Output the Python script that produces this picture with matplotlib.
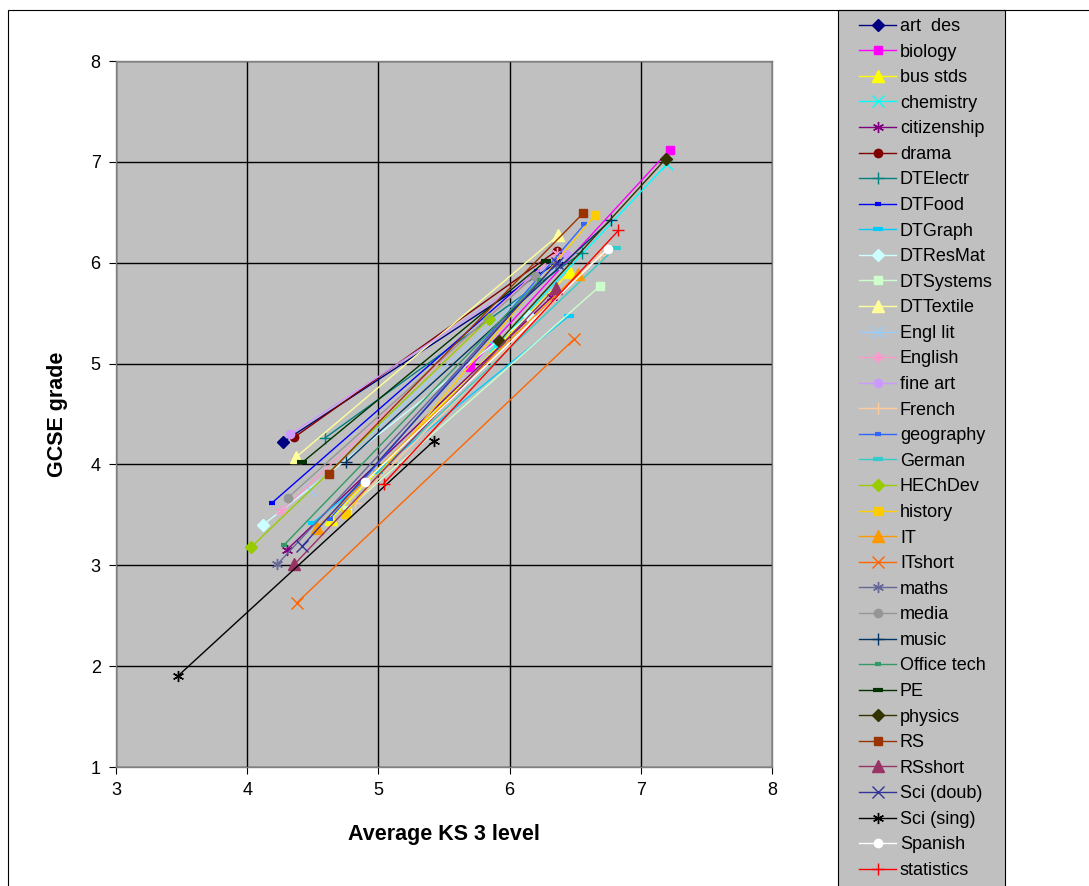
import matplotlib
matplotlib.use("Agg")
import matplotlib.pyplot as plt
from matplotlib.patches import Rectangle

plt.rcParams['font.family'] = ['Liberation Sans', 'DejaVu Sans']

# subject names, in legend order
subjects = ["art  des", "biology", "bus stds", "chemistry", "citizenship", "drama",
            "DTElectr", "DTFood", "DTGraph", "DTResMat", "DTSystems", "DTTextile",
            "Engl lit", "English", "fine art", "French", "geography", "German",
            "HEChDev", "history", "IT", "ITshort", "maths", "media", "music",
            "Office tech", "PE", "physics", "RS", "RSshort", "Sci (doub)",
            "Sci (sing)", "Spanish", "statistics"]

# average KS3 level of the lower and upper group
ks3_low = [4.27, 5.70, 4.64, 5.89, 4.30, 4.36, 4.59, 4.19, 4.50, 4.12, 4.76, 4.37,
           4.48, 4.26, 4.33, 4.82, 4.63, 5.00, 4.03, 4.75, 4.53, 4.38, 4.23, 4.31,
           4.75, 4.28, 4.42, 5.92, 4.62, 4.36, 4.42, 3.47, 4.90, 5.04]
ks3_high = [6.36, 7.22, 6.46, 7.20, 6.32, 6.36, 6.55, 6.21, 6.45, 6.15, 6.69, 6.37,
            6.35, 6.36, 6.43, 6.69, 6.57, 6.81, 5.84, 6.65, 6.52, 6.49, 6.35, 6.19,
            6.77, 6.23, 6.28, 7.19, 6.56, 6.35, 6.36, 5.42, 6.75, 6.83]

# average GCSE grade of the lower and upper group
gcse_low = [4.22, 4.97, 3.46, 5.17, 3.15, 4.27, 4.26, 3.62, 3.42, 3.40, 3.55, 4.07,
            3.75, 3.54, 4.30, 3.62, 3.46, 3.92, 3.18, 3.51, 3.37, 2.63, 3.01, 3.67,
            4.02, 3.20, 4.02, 5.22, 3.91, 3.01, 3.19, 1.90, 3.83, 3.81]
gcse_high = [6.00, 7.12, 5.91, 6.98, 5.66, 6.12, 6.10, 5.92, 5.47, 5.47, 5.77, 6.27,
             5.97, 6.10, 6.09, 6.08, 6.38, 6.15, 5.44, 6.47, 5.89, 5.24, 5.98, 5.87,
             6.42, 5.83, 6.02, 7.03, 6.49, 5.75, 6.00, 4.23, 6.14, 6.32]

colors = ["#000080", "#FF00FF", "#FFFF00", "#00FFFF", "#800080", "#800000",
          "#008080", "#0000FF", "#00CCFF", "#CCFFFF", "#CCFFCC", "#FFFF99",
          "#99CCFF", "#FF99CC", "#CC99FF", "#FFCC99", "#3366FF", "#33CCCC",
          "#99CC00", "#FFCC00", "#FF9900", "#FF6600", "#666699", "#969696",
          "#003366", "#339966", "#003300", "#333300", "#993300", "#993366",
          "#333399", "#000000", "#FFFFFF", "#FF0000"]

# excel-ish marker cycle: diamond, square, triangle, x, asterisk, circle, plus, dashes
asterisk = (6, 2, 0)
markers = ["D", "s", "^", "x", asterisk, "o", "+", "_", "_",
           "D", "s", "^", "x", asterisk, "o", "+", "_", "_",
           "D", "s", "^", "x", asterisk, "o", "+", "_", "_",
           "D", "s", "^", "x", asterisk, "o", "+"]
# short dash vs long dash
dash_size = {7: 4, 8: 7, 16: 4, 17: 7, 25: 4, 26: 7}

fig = plt.figure(figsize=(10.89, 8.86), dpi=100)
W, H = 1089, 886

# chart area frame
fig.add_artist(Rectangle((8 / W, -0.1), 1.2, 1 - 10 / H + 0.1, transform=fig.transFigure,
                         fill=False, edgecolor="black", linewidth=0.8, zorder=10))
# legend box, runs off the bottom of the chart
fig.add_artist(Rectangle((838 / W, -0.1), (1005 - 838) / W, 1 - 10 / H + 0.1,
                         transform=fig.transFigure, facecolor="#C0C0C0",
                         edgecolor="black", linewidth=0.8, zorder=4))

ax = fig.add_axes([116 / W, 1 - 767 / H, (772 - 116) / W, (767 - 61) / H])
ax.set_facecolor("#C0C0C0")

handles = []
for i, name in enumerate(subjects):
    m = markers[i]
    kw = dict(color=colors[i], marker=m, linewidth=1.0, markersize=6,
              markerfacecolor=colors[i], markeredgecolor=colors[i])
    if m == "_":
        kw.update(markersize=dash_size[i], markeredgewidth=3)
    elif m in ("x", "+", asterisk):
        kw.update(markersize=8, markeredgewidth=1.0)
    elif m == "^":
        kw.update(markersize=8)
    ln, = ax.plot([ks3_low[i], ks3_high[i]], [gcse_low[i], gcse_high[i]], label=name, **kw)
    handles.append(ln)

ax.set_xlim(3, 8)
ax.set_ylim(1, 8)
ax.set_xticks(range(3, 9))
ax.set_yticks(range(1, 9))
ax.grid(True, color="black", linewidth=1.0)
ax.set_axisbelow(True)
for s in ax.spines.values():
    s.set_color("#808080")
    s.set_linewidth(1.0)
ax.tick_params(axis="both", labelsize=13, direction="out", length=5, width=0.8, colors="black", pad=6)

ax.set_xlabel("Average KS 3 level", fontsize=15.5, fontweight="bold", labelpad=18)
ax.set_ylabel("GCSE grade", fontsize=15.5, fontweight="bold", labelpad=16)

leg = fig.legend(handles=handles, loc="upper left",
                 bbox_to_anchor=(859 / W, 1 - 18 / H), bbox_transform=fig.transFigure,
                 fontsize=13, frameon=False, numpoints=1, handlelength=2.05,
                 handletextpad=0.22, labelspacing=0.475, borderpad=0, borderaxespad=0)
leg.set_zorder(5)

fig.savefig("out.png", dpi=100, facecolor="white")
